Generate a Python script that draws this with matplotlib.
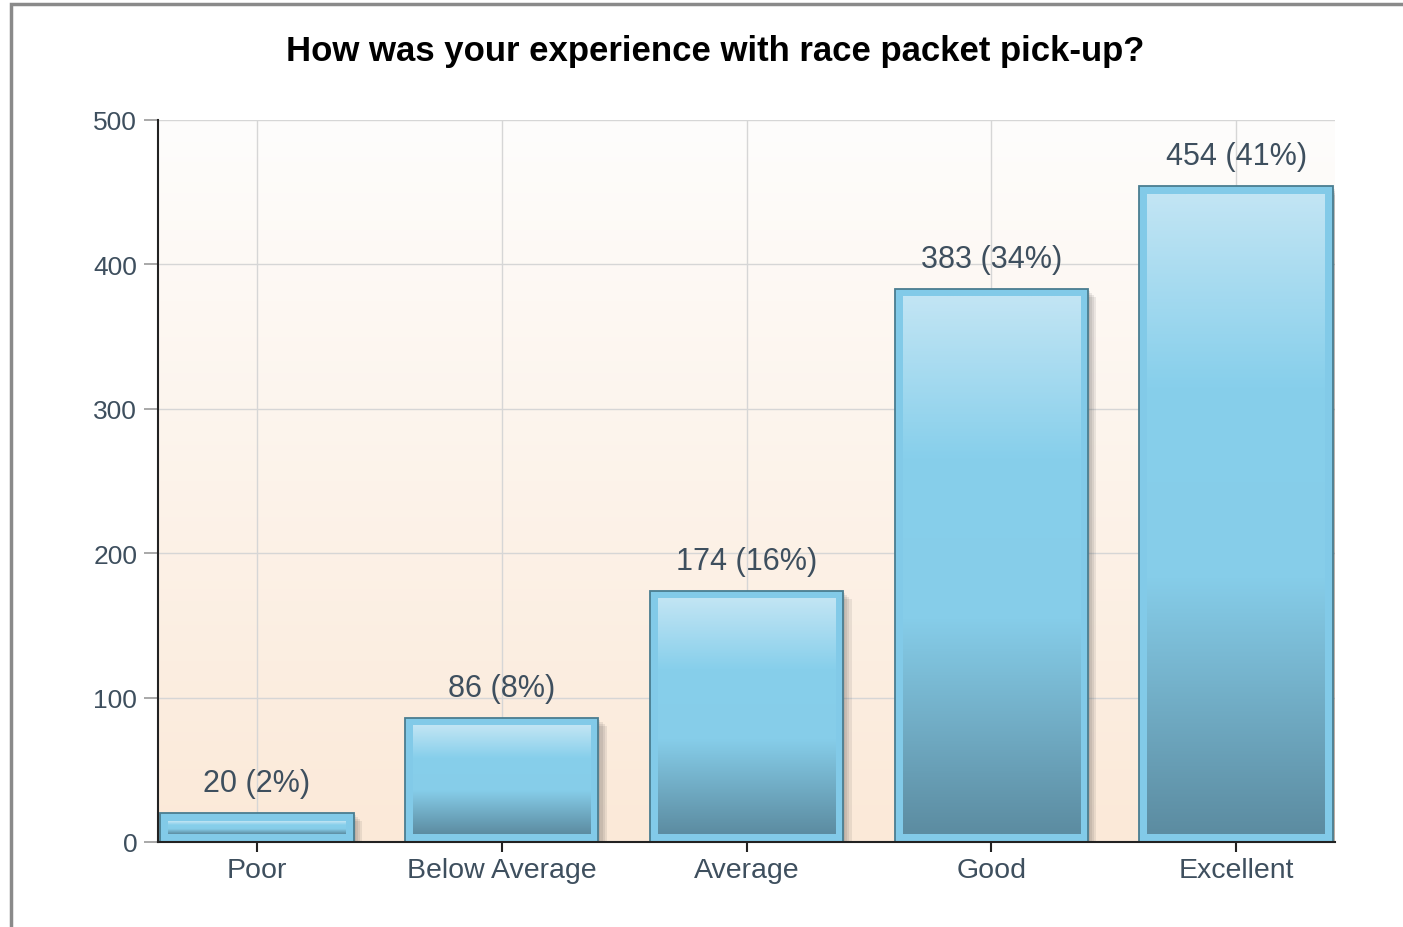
"""
plot.py
Survey bar chart: race packet pick-up experience.
"""
import matplotlib.pyplot as plt
import numpy as np
from matplotlib.colors import LinearSegmentedColormap
from matplotlib.patches import Rectangle
import matplotlib.patheffects as pe

categories = ["Poor", "Below Average", "Average", "Good", "Excellent"]
counts = [20, 86, 174, 383, 454]
percents = [2, 8, 16, 34, 41]
y_ticks = [0, 100, 200, 300, 400, 500]

TITLE = "How was your experience with race packet pick-up?"
TEXT_COLOR = "#3e4f5e"

W, H = 1403, 928
plt.rcParams["font.family"] = ["Liberation Sans", "DejaVu Sans"]

fig = plt.figure(figsize=(W / 100, H / 100), dpi=100)
fig.patch.set_facecolor("white")

# grey frame around the chart (cut off at right/bottom like the screenshot)
fig.patches.append(Rectangle((11 / W, -0.05), 1.2, 1 - 5 / H + 0.05,
                             transform=fig.transFigure, fill=False,
                             edgecolor="#8a8a8a", linewidth=2.5))

ax_l, ax_r, ax_t, ax_b = 158, 1335, 121, 843
ax = fig.add_axes([ax_l / W, 1 - ax_b / H, (ax_r - ax_l) / W, (ax_b - ax_t) / H])

x = np.arange(len(categories))
xpad = 0.404
ax.set_xlim(-xpad, len(categories) - 1 + xpad)
ax.set_ylim(0, 500)

# background gradient, white at top to light peach at bottom
bg = LinearSegmentedColormap.from_list("bg", ["#fbe9d8", "#fefdfc"])
ax.imshow(np.linspace(0, 1, 256).reshape(-1, 1), cmap=bg, origin="lower",
          extent=[0, 1, 0, 1], transform=ax.transAxes, aspect="auto", zorder=0)

# grid
for xi in x:
    ax.axvline(xi, color="#d6d6d6", linewidth=1, zorder=1)
for yv in y_ticks[1:]:
    ax.axhline(yv, color="#d6d6d6", linewidth=1, zorder=1)

px_x = (len(categories) - 1 + 2 * xpad) / (ax_r - ax_l)   # data units per pixel
px_y = 500 / (ax_b - ax_t)

# soft drop shadow built from a few faint offset copies
shadow = [pe.SimplePatchShadow(offset=(o, -o), shadow_rgbFace="#444444", alpha=0.1)
          for o in (1.5, 3, 4.5, 6)]

bar_w = 0.79
bars = ax.bar(x, counts, width=bar_w, color="#82cae8", edgecolor="#4a7d90",
              linewidth=1.3, zorder=3, path_effects=shadow + [pe.Normal()])

bar_cmap = LinearSegmentedColormap.from_list(
    "bar", [(0.0, "#5c8ca1"), (0.4, "#86cde9"), (0.7, "#87cfeb"), (1.0, "#c2e5f4")])
inset = 8
for b in bars:
    x0 = b.get_x() + inset * px_x
    x1 = b.get_x() + b.get_width() - inset * px_x
    y0 = inset * px_y
    y1 = b.get_height() - inset * px_y
    ax.imshow(np.linspace(0, 1, 256).reshape(-1, 1), cmap=bar_cmap, origin="lower",
              extent=[x0, x1, y0, y1], aspect="auto", zorder=4)

for xi, c, p in zip(x, counts, percents):
    ax.text(xi, c + 30 * px_y, f"{c} ({p}%)", ha="center", va="center",
            fontsize=22, color=TEXT_COLOR, zorder=6)

ax.set_xlim(-xpad, len(categories) - 1 + xpad)
ax.set_ylim(0, 500)

ax.set_xticks(x)
ax.set_xticklabels(categories, fontsize=20.5, color=TEXT_COLOR)
ax.set_yticks(y_ticks)
ax.set_yticklabels([str(v) for v in y_ticks], fontsize=19, color=TEXT_COLOR)
ax.tick_params(axis="x", length=7, width=1.5, color="#222222", pad=4)
ax.tick_params(axis="y", length=10, width=1.2, color="#999999", pad=5)

for s in ["top", "right"]:
    ax.spines[s].set_visible(False)
for s in ["left", "bottom"]:
    ax.spines[s].set_color("#222222")
    ax.spines[s].set_linewidth(1.5)
    ax.spines[s].set_zorder(5)

fig.text(715 / W, 1 - 51 / H, TITLE, ha="center", va="center",
         fontsize=25, fontweight="bold", color="#000000")

fig.savefig("out.png", dpi=100)
